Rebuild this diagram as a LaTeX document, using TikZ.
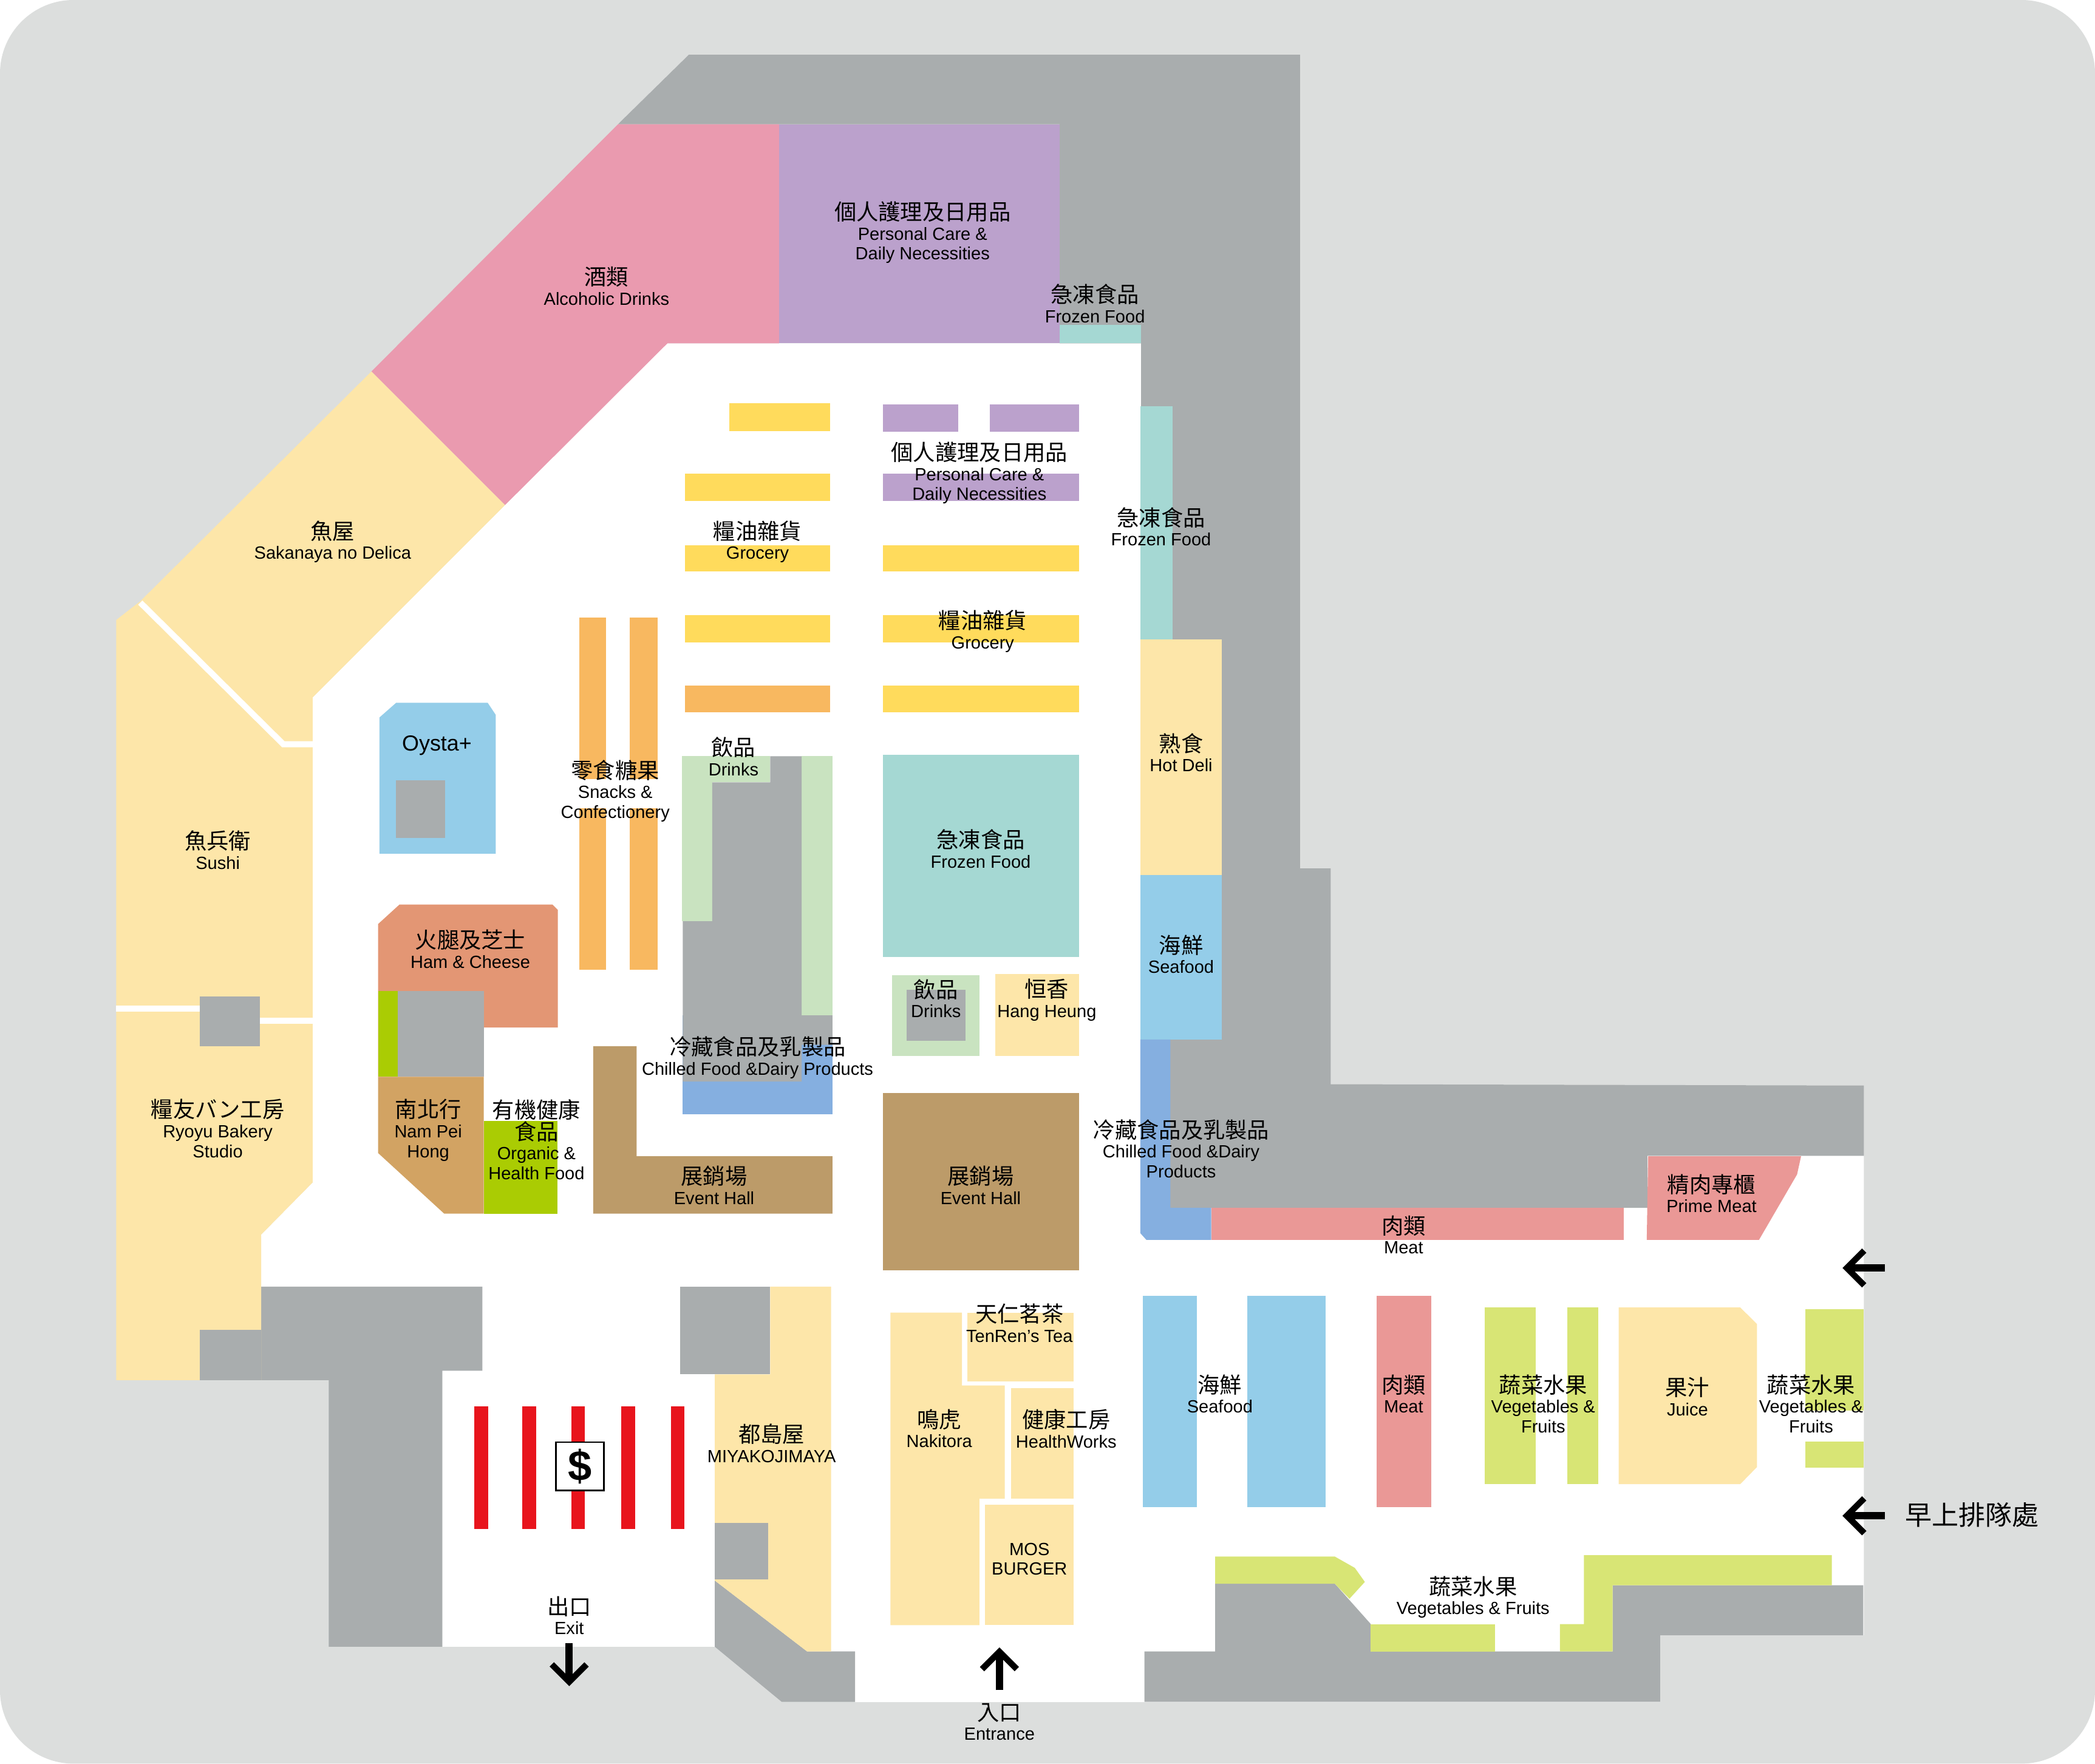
\documentclass[tikz,border=0pt]{standalone}
\usepackage{fontspec}
\setmainfont{Liberation Sans}
\newfontfamily\cjk{Noto Sans CJK TC}
\usetikzlibrary{arrows.meta}
\definecolor{ground}{HTML}{DCDEDD}
\definecolor{wall}{HTML}{A9ADAE}
\definecolor{cream}{HTML}{FDE6A9}
\definecolor{rose}{HTML}{EA9AAF}
\definecolor{lilac}{HTML}{BBA1CC}
\definecolor{teal}{HTML}{A5D8D3}
\definecolor{sky}{HTML}{94CDE9}
\definecolor{butter}{HTML}{FFDB5C}
\definecolor{amber}{HTML}{F8B860}
\definecolor{mint}{HTML}{C9E3C0}
\definecolor{steel}{HTML}{85AFE0}
\definecolor{coral}{HTML}{E39674}
\definecolor{tan}{HTML}{D2A363}
\definecolor{brown}{HTML}{BC9B69}
\definecolor{lime}{HTML}{AACC03}
\definecolor{salmon}{HTML}{EA9896}
\definecolor{veg}{HTML}{D8E575}
\definecolor{stripe}{HTML}{E8141C}
\newcommand{\zh}[1]{{\cjk\fontsize{16.5}{16}\selectfont #1}}
\tikzset{
	zone/.style={anchor=north, align=center, inner sep=0pt, yshift=-0.6pt, font=\fontsize{13.2}{14.8}\selectfont},
	way/.style={line width=5.3pt, -{Straight Barb[length=13pt,width=26pt,line width=4.6pt]}},
}
\begin{document}
\begin{tikzpicture}[x=1pt,y=-1pt]
	\useasboundingbox (0,0) rectangle (1568,1320);
	\fill[ground] (0,0) [rounded corners=55pt] rectangle (1568,1320);
	% floor
	\fill[white] (499,257) -- (854,257) -- (854,865) -- (1395,865) -- (1395,1224) -- (1242.5,1224) -- (1242.5,1274) -- (640,1274) -- (640,1236) -- (604,1236) -- (535,1183) -- (535,1232.5) -- (331,1232.5) -- (331,1000) -- (195.5,1000) -- (195.5,924) -- (234,885) -- (234,522) -- cycle;
	% walls
	\fill[wall] (515.5,41) -- (973,41) -- (973,650) -- (996,650) -- (996,811.5) -- (1395,812.5) -- (1395,865) -- (1233,865) -- (1233,904) -- (854,904) -- (854,257) -- (793,257) -- (793,93) -- (462.5,93) -- cycle;
	\fill[wall] (195.5,963) -- (361,963) -- (361,1026) -- (331,1026) -- (331,1232.5) -- (246,1232.5) -- (246,1033) -- (149.5,1033) -- (149.5,995.5) -- (195.5,995.5) -- cycle;
	\fill[wall] (856.5,1236) -- (909.5,1236) -- (909.5,1185.3) -- (999,1185.3) -- (1026,1215.6) -- (1026,1236) -- (1207,1236) -- (1207,1186.5) -- (1394.5,1186.5) -- (1394.5,1224) -- (1242.5,1224) -- (1242.5,1273.7) -- (856.5,1273.7) -- cycle;
	\fill[wall] (535,1183) -- (604,1236) -- (640,1236) -- (640,1273.7) -- (585,1273.7) -- (535,1232.5) -- cycle;
	% upper shops
	\fill[rose] (462.5,93) -- (583,93) -- (583,257) -- (499.5,257) -- (378,378) -- (278,278) -- cycle;
	\fill[lilac] (583,93) rectangle (793,257);
	\fill[teal] (793,243) rectangle (854,257);
	\fill[cream] (278,278) -- (378,378) -- (234,522) -- (234,885) -- (195.5,924) -- (195.5,1033) -- (87,1033) -- (87,464) -- (105,450) -- cycle;
	\fill[wall] (149.5,995.5) rectangle (195.5,1033);
	\draw[white,line width=4.5pt] (105,451) -- (212,557) -- (234,557);
	\draw[white,line width=4.5pt] (87,755) -- (150,755);
	\draw[white,line width=4.5pt] (194,764) -- (234,764);
	\fill[wall] (149.5,746) rectangle (194.5,783);
	% shelves
	\foreach \y/\h in {354.4/375,408/427.6,460.5/480.7}
		\fill[butter] (512.5,\y) rectangle (621.5,\h);
	\fill[butter] (546,302) rectangle (621.5,322.5);
	\fill[amber] (512.5,513) rectangle (621.5,533.3);
	\foreach \y/\h in {408/427.6,460.5/480.7,513/533.3}
		\fill[butter] (661,\y) rectangle (807.5,\h);
	\fill[lilac] (661,302.6) rectangle (717,323.3);
	\fill[lilac] (741,302.6) rectangle (807.5,323.3);
	\fill[lilac] (661,354.4) rectangle (807.5,375);
	\foreach \x/\w in {433.5/453.5,471.5/492} {
		\fill[amber] (\x,462) rectangle (\w,583.3);
		\fill[amber] (\x,604.7) rectangle (\w,725.8);
	}
	\fill[teal] (661,565) rectangle (807.5,716.4);
	% drinks and chilled
	\fill[steel] (511,760) rectangle (623,834);
	\fill[mint] (510.5,566) rectangle (533,689.5);
	\fill[mint] (510.5,566) rectangle (576.5,585.5);
	\fill[mint] (600,566) rectangle (623,760);
	\fill[wall] (576.5,566) -- (600,566) -- (600,760) -- (623,760) -- (623,782) -- (600,782) -- (600,809.5) -- (511,809.5) -- (511,689.5) -- (533,689.5) -- (533,585.5) -- (576.5,585.5) -- cycle;
	\fill[mint] (667.5,730) rectangle (733,790.5);
	\fill[wall] (678.5,741) rectangle (722.5,779);
	\fill[cream] (745,729) rectangle (807.5,790.5);
	% island shops
	\fill[sky] (284,537) -- (296.5,526) -- (365,526) -- (371,535) -- (371,639) -- (284,639) -- cycle;
	\fill[wall] (296.5,584) rectangle (333,627);
	\fill[coral] (283,691.6) -- (299,677) -- (413.5,677) -- (417.5,681) -- (417.5,769) -- (362,769) -- (362,806) -- (283,806) -- cycle;
	\fill[lime] (283,741.7) rectangle (297.5,806);
	\fill[wall] (297.5,741.7) rectangle (362,806);
	\fill[tan] (283,806) -- (362,806) -- (362,908.4) -- (332.5,908.4) -- (283,863) -- cycle;
	\fill[lime] (362,839) rectangle (417,908.4);
	\fill[brown] (444,783) -- (476.5,783) -- (476.5,865.4) -- (623,865.4) -- (623,908.4) -- (444,908.4) -- cycle;
	\fill[brown] (661,818) rectangle (807.5,951);
	% right side
	\fill[teal] (853.5,304) rectangle (877.5,478.6);
	\fill[cream] (853.5,478.6) rectangle (914.5,655);
	\fill[sky] (853.5,655) rectangle (914.5,778);
	\fill[steel] (853.5,778) -- (876,778) -- (876,904) -- (906.5,904) -- (906.5,928) -- (858,928) -- (853.5,923) -- cycle;
	\fill[salmon] (906.5,904) rectangle (1215.5,928);
	\fill[salmon] (1233.5,865.4) -- (1348,865.4) -- (1345,879) -- (1316.5,928) -- (1232.5,928) -- cycle;
	\fill[sky] (855.5,970) rectangle (896,1128);
	\fill[sky] (933.5,970) rectangle (992,1128);
	\fill[salmon] (1030.5,970) rectangle (1071,1128);
	\fill[veg] (1111,978.6) rectangle (1149.5,1110.8);
	\fill[veg] (1173,978.6) rectangle (1196,1110.8);
	\fill[cream] (1211.5,978.6) -- (1302.5,978.6) -- (1315,991) -- (1315,1098) -- (1302.5,1110.8) -- (1211.5,1110.8) -- cycle;
	\fill[veg] (1351,980) rectangle (1395,1055.6);
	\fill[veg] (1351,1079) rectangle (1395,1098.6);
	\fill[veg] (909.5,1165) -- (999,1165) -- (1014,1173.5) -- (1021.5,1184) -- (1010,1196.6) -- (999,1185.3) -- (909.5,1185.3) -- cycle;
	\fill[veg] (1026,1215.6) rectangle (1119,1236);
	\fill[veg] (1185.5,1164) -- (1371,1164) -- (1371,1186.5) -- (1207,1186.5) -- (1207,1236) -- (1167.5,1236) -- (1167.5,1215.6) -- (1185.5,1215.6) -- cycle;
	% lower shops
	\fill[cream] (666.5,982.4) -- (720,982.4) -- (720,1037) -- (752,1037) -- (752,1121.7) -- (733,1121.7) -- (733,1216.4) -- (666.5,1216.4) -- cycle;
	\fill[cream] (724,982.4) rectangle (803.5,1034);
	\fill[cream] (756.5,1039) rectangle (803.5,1121.7);
	\fill[cream] (737,1126.4) rectangle (803.5,1216.4);
	\fill[cream] (576.5,963) -- (622,963) -- (622,1236) -- (604,1236) -- (535,1183) -- (535,1028.7) -- (576.5,1028.7) -- cycle;
	\fill[wall] (509,963) rectangle (576.5,1028.7);
	\fill[wall] (535,1140) rectangle (575,1182);
	\foreach \x in {355,391,427.5,465,502}
		\fill[stripe] (\x,1052.7) rectangle (\x+10.3,1144.5);
	\node[draw=black,fill=white,line width=1.2pt,minimum width=36pt,minimum height=36pt,inner sep=0pt,font=\fontsize{32}{32}\selectfont\bfseries] (cash) at (434,1097.4) {\$};
	% labels
	\node[zone] (care) at (690.5,150) {\zh{個人護理及日用品}\\Personal Care \&\\Daily Necessities};
	\node[zone] (alcohol) at (454,199) {\zh{酒類}\\Alcoholic Drinks};
	\node[zone] (frozena) at (819.5,212) {\zh{急凍食品}\\Frozen Food};
	\node[zone] (careb) at (733,330) {\zh{個人護理及日用品}\\Personal Care \&\\Daily Necessities};
	\node[zone] (frozenb) at (869,379) {\zh{急凍食品}\\Frozen Food};
	\node[zone] (grocerya) at (567,389) {\zh{糧油雜貨}\\Grocery};
	\node[zone] (sakanaya) at (249,389) {\zh{魚屋}\\Sakanaya no Delica};
	\node[zone] (groceryb) at (735.5,456) {\zh{糧油雜貨}\\Grocery};
	\node[zone] (deli) at (884,548) {\zh{熟食}\\Hot Deli};
	\node[zone,font=\fontsize{16.3}{16}\selectfont] (oysta) at (327,550) {Oysta+};
	\node[zone] (drinksa) at (549,551) {\zh{飲品}\\Drinks};
	\node[zone] (snacks) at (460.5,568) {\zh{零食糖果}\\Snacks \&\\Confectionery};
	\node[zone] (sushi) at (163,621) {\zh{魚兵衛}\\Sushi};
	\node[zone] (frozenc) at (734,620) {\zh{急凍食品}\\Frozen Food};
	\node[zone] (ham) at (352,695) {\zh{火腿及芝士}\\Ham \& Cheese};
	\node[zone] (seafooda) at (884,699) {\zh{海鮮}\\Seafood};
	\node[zone] (drinksb) at (700.5,732) {\zh{飲品}\\Drinks};
	\node[zone] (hang) at (783.5,732) {\zh{恒香}\\Hang Heung};
	\node[zone] (chilleda) at (567,775) {\zh{冷藏食品及乳製品}\\Chilled Food \&Dairy Products};
	\node[zone] (ryoyu) at (163,822) {\zh{糧友バン工房}\\Ryoyu Bakery\\Studio};
	\node[zone] (nampei) at (320.5,822) {\zh{南北行}\\Nam Pei\\Hong};
	\node[zone] (organic) at (401.5,822) {\zh{有機健康}\\\zh{食品}\\Organic \&\\Health Food};
	\node[zone] (chilledb) at (884,837) {\zh{冷藏食品及乳製品}\\Chilled Food \&Dairy\\Products};
	\node[zone] (prime) at (1281,878) {\zh{精肉專櫃}\\Prime Meat};
	\node[zone] (eventa) at (534.5,872) {\zh{展銷場}\\Event Hall};
	\node[zone] (eventb) at (734,872) {\zh{展銷場}\\Event Hall};
	\node[zone] (meata) at (1050.5,909) {\zh{肉類}\\Meat};
	\node[zone] (tenren) at (763,975) {\zh{天仁茗茶}\\TenRen’s Tea};
	\node[zone] (seafoodb) at (913,1028) {\zh{海鮮}\\Seafood};
	\node[zone] (meatb) at (1050.5,1028) {\zh{肉類}\\Meat};
	\node[zone] (vega) at (1155,1028) {\zh{蔬菜水果}\\Vegetables \&\\Fruits};
	\node[zone] (juice) at (1263,1030) {\zh{果汁}\\Juice};
	\node[zone] (vegb) at (1355.5,1028) {\zh{蔬菜水果}\\Vegetables \&\\Fruits};
	\node[zone] (nakitora) at (703,1054) {\zh{鳴虎}\\Nakitora};
	\node[zone] (health) at (798,1054) {\zh{健康工房}\\HealthWorks};
	\node[zone] (miyako) at (577.5,1065) {\zh{都島屋}\\MIYAKOJIMAYA};
	\node[zone] (mos) at (770.5,1154) {MOS\\BURGER};
	\node[zone] (vegc) at (1102.5,1179) {\zh{蔬菜水果}\\Vegetables \& Fruits};
	\node[zone] (exit) at (426,1194) {\zh{出口}\\Exit};
	\node[zone] (entrance) at (748,1274) {\zh{入口}\\Entrance};
	\node[inner sep=0pt] (queue) at (1476,1134) {\cjk\fontsize{20}{20}\selectfont 早上排隊處};
	% arrows
	\coordinate (exita) at (426,1230);
	\coordinate (exitb) at (426,1262);
	\coordinate (ina) at (748,1265);
	\coordinate (inb) at (748,1233);
	\coordinate (righta) at (1410.5,949);
	\coordinate (rightb) at (1379,949);
	\coordinate (queuea) at (1410.5,1134.5);
	\coordinate (queueb) at (1379,1134.5);
	\draw[way] (exita) -- (exitb);
	\draw[way] (ina) -- (inb);
	\draw[way] (righta) -- (rightb);
	\draw[way] (queuea) -- (queueb);
\end{tikzpicture}
\end{document}
